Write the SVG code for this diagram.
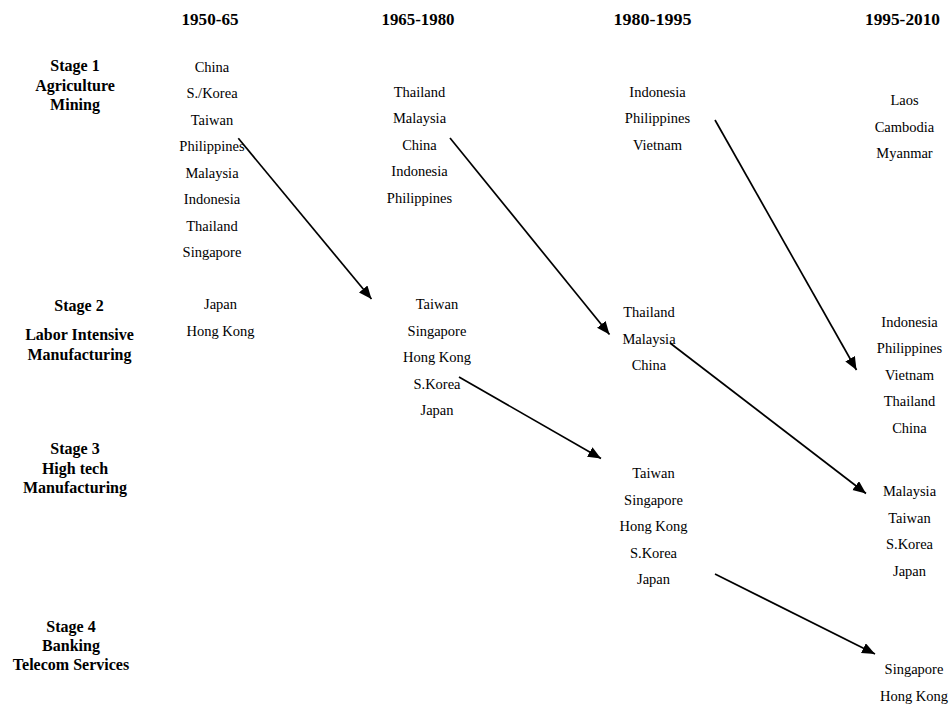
<svg xmlns="http://www.w3.org/2000/svg" width="950" height="706" viewBox="0 0 950 706">
<defs>
<marker id="ah" markerUnits="userSpaceOnUse" markerWidth="14" markerHeight="12" refX="13" refY="5.5" orient="auto">
<path d="M0,0 L13,5.5 L0,11 Z" fill="#000"/>
</marker>
</defs>
<style>
text{font-family:"Liberation Serif","Times New Roman",serif;fill:#000;text-anchor:middle}
.h{font-size:17px;font-weight:bold}
.s{font-size:16px;font-weight:bold}
.c{font-size:14.5px}
.arr{stroke:#000;stroke-width:1.7;fill:none;marker-end:url(#ah)}
</style>
<rect width="950" height="706" fill="#fff"/>
<g id="headers">
<text class="h" x="210" y="25" textLength="57" lengthAdjust="spacingAndGlyphs">1950-65</text>
<text class="h" x="418" y="25" textLength="73" lengthAdjust="spacingAndGlyphs">1965-1980</text>
<text class="h" x="652.5" y="25" textLength="78" lengthAdjust="spacingAndGlyphs">1980-1995</text>
<text class="h" x="902.5" y="25" textLength="75" lengthAdjust="spacingAndGlyphs">1995-2010</text>
</g>
<g id="stage1">
<text class="s" x="75" y="71">Stage 1</text>
<text class="s" x="75" y="90.5">Agriculture</text>
<text class="s" x="75" y="110">Mining</text>
</g>
<g id="stage2">
<text class="s" x="79" y="311">Stage 2</text>
<text class="s" x="79.5" y="340">Labor Intensive</text>
<text class="s" x="79.5" y="360">Manufacturing</text>
</g>
<g id="stage3">
<text class="s" x="75" y="454">Stage 3</text>
<text class="s" x="75" y="473.5">High tech</text>
<text class="s" x="75" y="493">Manufacturing</text>
</g>
<g id="stage4">
<text class="s" x="71" y="632">Stage 4</text>
<text class="s" x="71" y="651">Banking</text>
<text class="s" x="71" y="670">Telecom Services</text>
</g>
<g id="s1-1950">
<text class="c" x="212" y="71.5">China</text>
<text class="c" x="212" y="98">S./Korea</text>
<text class="c" x="212" y="124.5">Taiwan</text>
<text class="c" x="212" y="151">Philippines</text>
<text class="c" x="212" y="177.5">Malaysia</text>
<text class="c" x="212" y="204">Indonesia</text>
<text class="c" x="212" y="230.5">Thailand</text>
<text class="c" x="212" y="257">Singapore</text>
</g>
<g id="s1-1965">
<text class="c" x="419.5" y="96.5">Thailand</text>
<text class="c" x="419.5" y="123">Malaysia</text>
<text class="c" x="419.5" y="149.5">China</text>
<text class="c" x="419.5" y="176">Indonesia</text>
<text class="c" x="419.5" y="202.5">Philippines</text>
</g>
<g id="s1-1980">
<text class="c" x="657.5" y="96.5">Indonesia</text>
<text class="c" x="657.5" y="123">Philippines</text>
<text class="c" x="657.5" y="149.5">Vietnam</text>
</g>
<g id="s1-1995">
<text class="c" x="904.5" y="105">Laos</text>
<text class="c" x="904.5" y="131.5">Cambodia</text>
<text class="c" x="904.5" y="158">Myanmar</text>
</g>
<g id="s2-1950">
<text class="c" x="220.5" y="309">Japan</text>
<text class="c" x="220.5" y="335.5">Hong Kong</text>
</g>
<g id="s2-1965">
<text class="c" x="437" y="309">Taiwan</text>
<text class="c" x="437" y="335.5">Singapore</text>
<text class="c" x="437" y="362">Hong Kong</text>
<text class="c" x="437" y="388.5">S.Korea</text>
<text class="c" x="437" y="415">Japan</text>
</g>
<g id="s2-1980">
<text class="c" x="649" y="317">Thailand</text>
<text class="c" x="649" y="343.5">Malaysia</text>
<text class="c" x="649" y="370">China</text>
</g>
<g id="s2-1995">
<text class="c" x="909.5" y="326.5">Indonesia</text>
<text class="c" x="909.5" y="353">Philippines</text>
<text class="c" x="909.5" y="379.5">Vietnam</text>
<text class="c" x="909.5" y="406">Thailand</text>
<text class="c" x="909.5" y="432.5">China</text>
</g>
<g id="s3-1980">
<text class="c" x="653.5" y="478">Taiwan</text>
<text class="c" x="653.5" y="504.5">Singapore</text>
<text class="c" x="653.5" y="531">Hong Kong</text>
<text class="c" x="653.5" y="557.5">S.Korea</text>
<text class="c" x="653.5" y="584">Japan</text>
</g>
<g id="s3-1995">
<text class="c" x="909.5" y="496">Malaysia</text>
<text class="c" x="909.5" y="522.5">Taiwan</text>
<text class="c" x="909.5" y="549">S.Korea</text>
<text class="c" x="909.5" y="575.5">Japan</text>
</g>
<g id="s4-1995">
<text class="c" x="914" y="674">Singapore</text>
<text class="c" x="914" y="700.5">Hong Kong</text>
</g>
<g id="connectors">
<line class="arr" x1="238.3" y1="138.3" x2="371.5" y2="299"/>
<line class="arr" x1="450" y1="138" x2="609.5" y2="334.5"/>
<line class="arr" x1="715" y1="120" x2="856.5" y2="370"/>
<line class="arr" x1="459" y1="377" x2="601" y2="458.5"/>
<line class="arr" x1="670" y1="343" x2="866" y2="493.5"/>
<line class="arr" x1="715" y1="574" x2="875" y2="654"/>
</g>
</svg>
